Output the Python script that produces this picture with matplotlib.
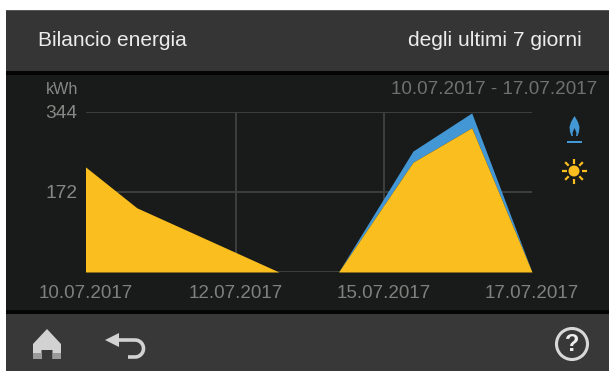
import numpy as np
import matplotlib
matplotlib.use('Agg')
import matplotlib.pyplot as plt
from matplotlib.patches import Rectangle, Polygon, Circle

plt.rcParams['font.family'] = ['Liberation Sans', 'DejaVu Sans']

# values, x is in tick steps
x_vals = [0, 0.345, 1.3, 1.7, 2.2, 2.595, 3.0]
solar = [226, 138, 0, 0, 236, 310, 0]
gas = [0, 0, 0, 0, 24, 32, 0]
tick_pos = [0, 1.01, 2.005, 3]
tick_labels = ['10.07.2017', '12.07.2017', '15.07.2017', '17.07.2017']
y_ticks = [172, 344]

W, H = 609, 371
fig = plt.figure(figsize=(W / 100, H / 100), dpi=100, facecolor='white')

# background panels and icons, in pixels
bg = fig.add_axes([0, 0, 1, 1], zorder=0)
bg.set_xlim(0, W)
bg.set_ylim(H, 0)
bg.axis('off')
bg.add_patch(Rectangle((6, 10), W, 61, fc='#343534', ec='none'))
bg.add_patch(Rectangle((6, 10), W, 1.2, fc='#555655', ec='none'))
bg.add_patch(Rectangle((6, 71), W, 3.5, fc='#050505', ec='none'))
bg.add_patch(Rectangle((6, 74.5), W, 236, fc='#181b19', ec='none'))
bg.add_patch(Rectangle((6, 310), W, 4, fc='#050505', ec='none'))
bg.add_patch(Rectangle((6, 314), W, 57, fc='#373837', ec='none'))

bg.text(38, 41, 'Bilancio energia', color='#ececec', fontsize=15, va='center', ha='left')
bg.text(582, 41, 'degli ultimi 7 giorni', color='#ececec', fontsize=15.1, va='center', ha='right')
bg.text(46, 90, 'kWh', color='#858885', fontsize=11.6, va='center', ha='left')
bg.text(597, 89, '10.07.2017 - 17.07.2017', color='#6f716f', fontsize=13.6, va='center', ha='right')

# flame
blue = '#4497d5'
bg.add_patch(Polygon([(574.5, 116), (578, 122), (579.5, 127), (579, 132), (577.5, 136), (571.5, 136),
                      (570, 132), (569.5, 127), (571, 122)], fc=blue, ec='none'))
bg.add_patch(Polygon([(574.5, 128), (576.5, 133), (576, 136), (573, 136), (572.5, 133)], fc='#181b19', ec='none'))
bg.add_patch(Rectangle((567, 140.5), 15, 2, fc=blue, ec='none'))

# sun
yellow = '#fbbe1f'
bg.add_patch(Circle((574, 171), 5.5, fc=yellow, ec='none'))
for a in np.arange(0, 360, 45):
    r = np.deg2rad(a)
    bg.plot([574 + 7.5 * np.cos(r), 574 + 12.5 * np.cos(r)],
            [171 + 7.5 * np.sin(r), 171 + 12.5 * np.sin(r)], color=yellow, lw=1.6, solid_capstyle='butt')

# home
light = '#d2d2d2'
bg.add_patch(Polygon([(33, 344), (47, 329), (61, 344), (61, 359), (52.5, 359), (52.5, 350), (41.5, 350), (41.5, 359), (33, 359)],
                     fc=light, ec='none'))
bg.add_patch(Rectangle((33, 353), 8.5, 6, fc='#9a9a9a', ec='none'))
bg.add_patch(Rectangle((52.5, 353), 8.5, 6, fc='#9a9a9a', ec='none'))

# back arrow
bg.add_patch(Polygon([(105, 340), (119, 333), (119, 347)], fc=light, ec='none'))
bg.plot([119, 135], [340, 340], color=light, lw=2.6, solid_capstyle='butt')
t = np.linspace(-90, 90, 30)
bg.plot(135 + 8.5 * np.cos(np.deg2rad(t)), 348.5 + 8.5 * np.sin(np.deg2rad(t)), color=light, lw=2.6, solid_capstyle='butt')
bg.plot([135, 128], [357, 357], color=light, lw=2.6, solid_capstyle='butt')

# help button
bg.add_patch(Circle((572, 344), 15.5, fc='none', ec='#d8d8d8', lw=2.2))
bg.text(572, 344.5, '?', color='#eeeeee', fontsize=17, fontweight='bold', va='center', ha='center')

# chart
ax = fig.add_axes([85.5 / W, 1 - 272 / H, (532 - 85.5) / W, 160 / H], zorder=1)
ax.patch.set_alpha(0)
ax.set_xlim(0, 3)
ax.set_ylim(0, 344)
for s in ax.spines.values():
    s.set_visible(False)
ax.set_xticks(tick_pos)
ax.set_xticklabels(tick_labels)
ax.set_yticks(y_ticks)
ax.tick_params(length=0)
ax.tick_params(axis='x', colors='#7e817e', labelsize=13.5, pad=9)
ax.tick_params(axis='y', colors='#858885', labelsize=13.8, pad=6)
for v in [0, 172, 344]:
    ax.axhline(v, color='#3d403e', lw=1.4, zorder=1)
for v in tick_pos[1:3]:
    ax.axvline(v, color='#3d403e', lw=1.4, zorder=1)
solar = np.array(solar)
gas = np.array(gas)
ax.fill_between(x_vals, solar, solar + gas, color=blue, lw=0, zorder=2)
ax.fill_between(x_vals, 0, solar, color=yellow, lw=0, zorder=3)

fig.savefig('out.png', dpi=100)
